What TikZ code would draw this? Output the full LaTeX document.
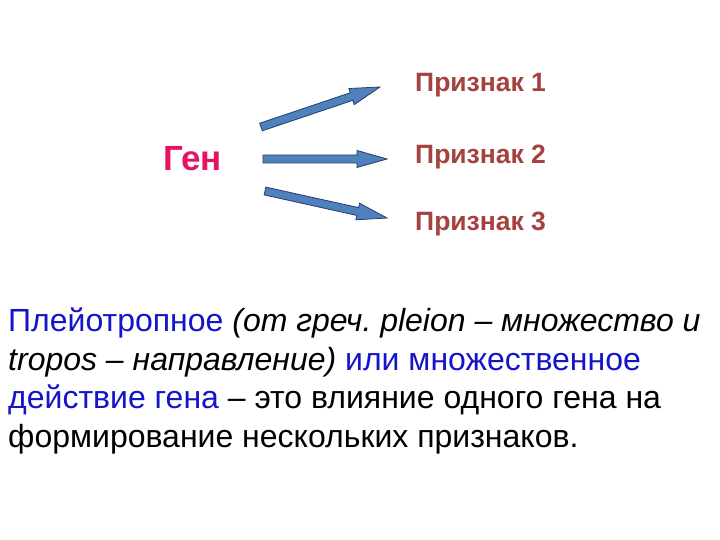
\documentclass[tikz,border=0pt]{standalone}
\usepackage{fontspec}
\setmainfont{Liberation Sans}
\usetikzlibrary{calc,positioning}
\frenchspacing
\definecolor{genecol}{RGB}{228,20,100}
\definecolor{traitcol}{RGB}{165,65,62}
\definecolor{arrowfill}{RGB}{79,129,189}
\definecolor{arrowline}{RGB}{40,60,110}
\definecolor{termblue}{RGB}{20,20,200}
\newcommand{\blockarrow}[2]{%
  \coordinate (hb) at ($(#2)!30pt!(#1)$);
  \filldraw[arrowbox] ($(#1)!4pt!-90:(#2)$) -- ($(hb)!4pt!90:(#1)$) -- ($(hb)!8.5pt!90:(#1)$)
    -- (#2) -- ($(hb)!8.5pt!-90:(#1)$) -- ($(hb)!4pt!-90:(#1)$) -- ($(#1)!4pt!90:(#2)$) -- cycle;}

\begin{document}
\begin{tikzpicture}[x=1pt,y=-1pt,
    gene/.style={font=\fontsize{35}{42}\selectfont\bfseries,text=genecol,inner sep=0pt},
    trait/.style={font=\fontsize{26.5}{32}\selectfont\bfseries,text=traitcol,inner sep=0pt,anchor=base west},
    arrowbox/.style={fill=arrowfill,draw=arrowline,line width=0.8pt,line join=miter}]
  \useasboundingbox[fill=white] (0,0) rectangle (720,540);

  \node[gene,anchor=base west] (gen) at (163,171) {Ген};           % gene
  \node[trait] (tr1) at (415,91.7) {Признак 1};                     % traits
  \node[trait] (tr2) at (415,163.3) {Признак 2};
  \node[trait] (tr3) at (415,230) {Признак 3};

  \coordinate (t1) at (261,127); \coordinate (h1) at (380,87);      % arrow ends
  \coordinate (t2) at (263,159); \coordinate (h2) at (387,159);
  \coordinate (t3) at (265,191); \coordinate (h3) at (387,218);

  \blockarrow{t1}{h1}
  \blockarrow{t2}{h2}
  \blockarrow{t3}{h3}

  % definition text (base = last line)
  \node[anchor=base west,inner sep=0pt,align=left,
        font=\fontsize{32}{38.4}\selectfont] (defn) at (8,447)
    {\textcolor{termblue}{Плейотропное} \textit{(от греч. pleion – множество и}\\
     \textit{tropos – направление)} \textcolor{termblue}{или множественное}\\
     \textcolor{termblue}{действие гена} – это влияние одного гена на\\
     формирование нескольких признаков.};
\end{tikzpicture}
\end{document}
